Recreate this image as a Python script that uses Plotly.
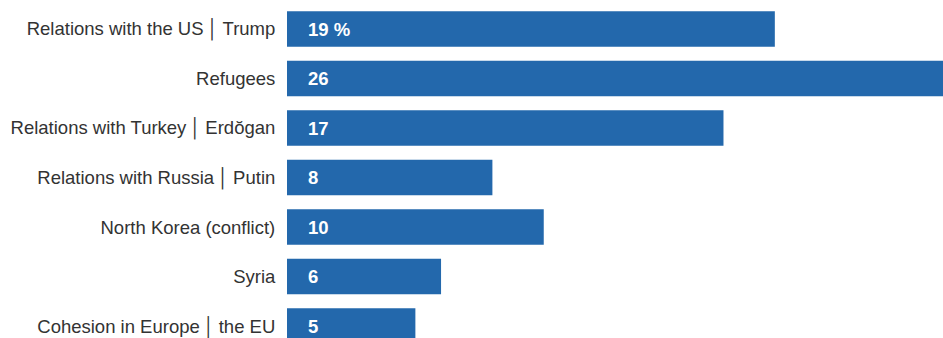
import plotly.graph_objects as go

categories = [
    "Relations with the US\u2009│\u2009Trump",
    "Refugees",
    "Relations with Turkey\u2009│\u2009Erdŏgan",
    "Relations with Russia\u2009│\u2009Putin",
    "North Korea (conflict)",
    "Syria",
    "Cohesion in Europe\u2009│\u2009the EU",
]
values = [19, 26, 17, 8, 10, 6, 5]
value_labels = ["19 %", "26", "17", "8", "10", "6", "5"]

BLUE = "#2368ac"
FONT = "Liberation Sans, Arial, sans-serif"

fig = go.Figure()

fig.add_trace(go.Bar(
    x=values,
    y=categories,
    orientation="h",
    marker=dict(color=BLUE, line=dict(width=0)),
    width=0.72,
    hoverinfo="skip",
))

# value labels, white, at the start of each bar
for cat, lab in zip(categories, value_labels):
    fig.add_annotation(
        x=0, y=cat, text="<b>%s</b>" % lab, showarrow=False,
        xanchor="left", xshift=19,
        font=dict(family=FONT, size=18.5, color="white"),
    )

fig.update_layout(
    width=943,
    height=338,
    margin=dict(l=287, r=0, t=0, b=0),
    plot_bgcolor="white",
    paper_bgcolor="white",
    showlegend=False,
    font=dict(family=FONT, size=18.5, color="#333333"),
    xaxis=dict(range=[0, 25.55], visible=False, fixedrange=True),
    yaxis=dict(
        range=[6.242, -0.586],
        showgrid=False,
        zeroline=False,
        showline=False,
        automargin=False,
        fixedrange=True,
        ticks="outside",
        ticklen=7,
        tickcolor="rgba(0,0,0,0)",
        tickfont=dict(size=18.5, color="#333333"),
    ),
)

# drop the default body margin so the figure fills the window
fig.write_html(
    "out.html",
    config={"displayModeBar": False},
    post_script="document.body.style.margin='0';document.body.style.overflow='hidden';",
)
